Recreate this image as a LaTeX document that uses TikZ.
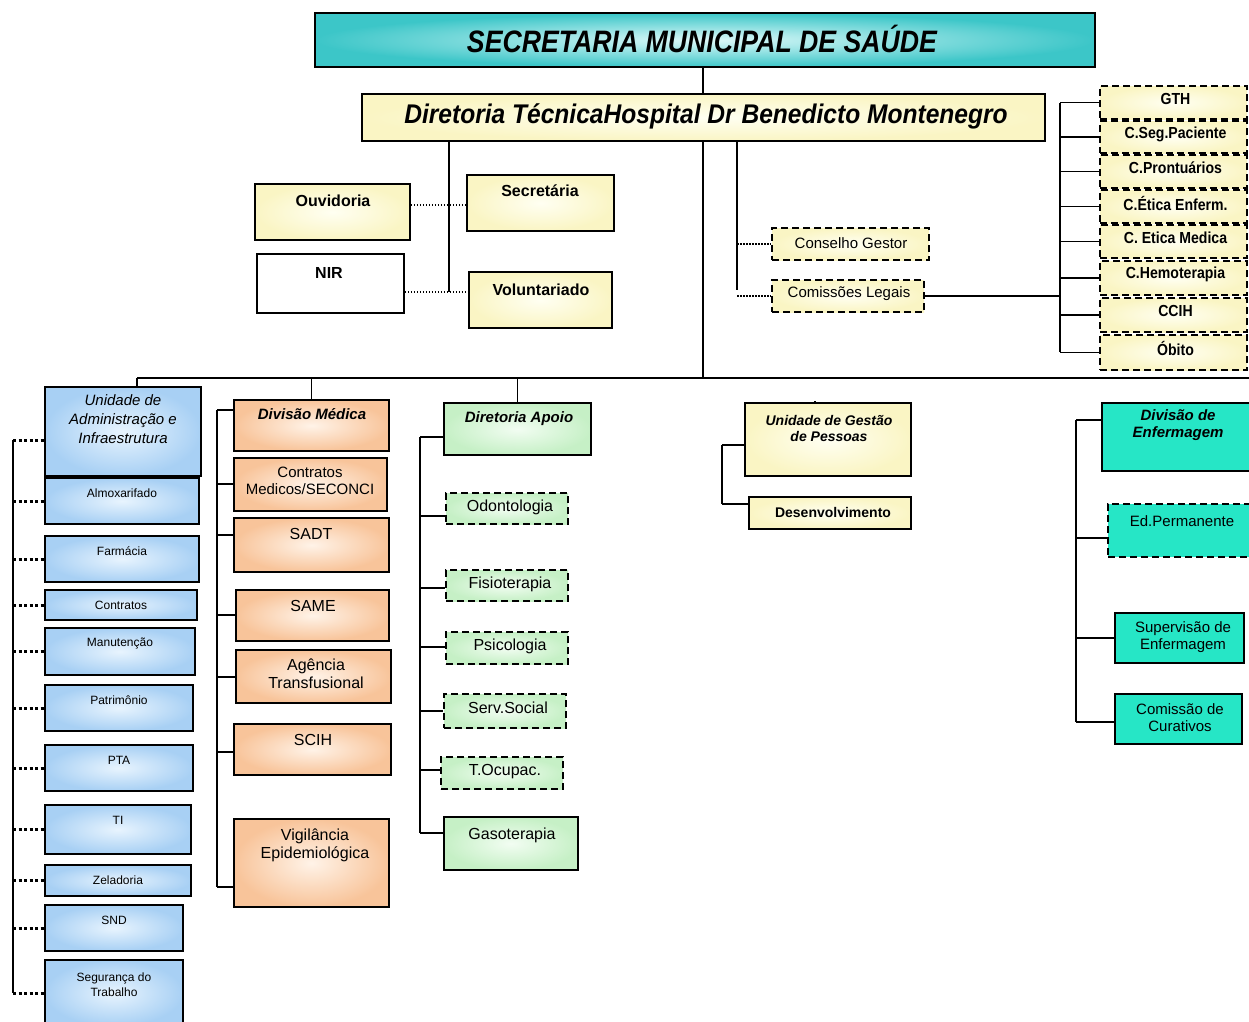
\documentclass[tikz,border=0pt]{standalone}
\usepackage{fontspec}
\setmainfont{Liberation Sans}
\usetikzlibrary{fit,calc}
\definecolor{bluein}{HTML}{E8F4FE}
\definecolor{blueout}{HTML}{A8D0F4}
\definecolor{orgin}{HTML}{FFF3E8}
\definecolor{orgout}{HTML}{F8C49A}
\definecolor{grnin}{HTML}{F2FDF2}
\definecolor{grnout}{HTML}{C6F0C6}
\definecolor{ylwin}{HTML}{FFFFF2}
\definecolor{ylwout}{HTML}{FAF5C4}
\definecolor{tealin}{HTML}{DDF9F9}
\definecolor{tealout}{HTML}{3CC6C8}
\definecolor{turq}{HTML}{26E6C6}
\newcommand\fs[1]{\fontsize{#1}{#1}\selectfont}
\newcommand\nar[2][0.86]{\scalebox{#1}[1]{#2}}
\tikzset{
  bx/.style={draw, line width=1.8pt, inner sep=0pt},
  bluebox/.style={bx, inner color=bluein, outer color=blueout},
  orgbox/.style={bx, inner color=orgin, outer color=orgout},
  grnbox/.style={bx, inner color=grnin, outer color=grnout},
  ylwbox/.style={bx, inner color=ylwin, outer color=ylwout},
  teabox/.style={bx, inner color=tealin, outer color=tealout},
  turqbox/.style={bx, fill=turq},
  dsh/.style={dash pattern=on 7pt off 4pt},
  conn/.style={line width=1.8pt},
  dotc/.style={line width=1.6pt, dash pattern=on 1.5pt off 1.5pt},
  sqd/.style={line width=3pt, dash pattern=on 3pt off 2.5pt},
  txt/.style={inner sep=0pt, align=center},
}
\newcommand\bxx[6]{\node[#2, fit={(#3,#4) (#5,#6)}] (#1) {};}
\begin{document}
\begin{tikzpicture}[x=1pt,y=-1pt]
\useasboundingbox (0,0) rectangle (1249,1021);
% ---------- top
\bxx{title}{teabox}{315}{13}{1095}{67}
\node[txt, font=\fs{31}\bfseries\itshape] at (702,39) {\nar[0.86]{SECRETARIA MUNICIPAL DE SAÚDE}};
\bxx{dir}{ylwbox}{362}{94}{1045}{141}
\node[txt, font=\fs{27}\bfseries\itshape] at (706,116) {\nar[0.91]{Diretoria Técnica}\nar[0.91]{Hospital Dr Benedicto Montenegro}};
\coordinate (m) at (703,0);
\draw[conn] (title.south -| m) -- (dir.north -| m);
% ---------- staff boxes
\bxx{ouv}{ylwbox}{255}{184}{410}{240}
\node[txt, font=\fs{16}\bfseries] at (333,201) {Ouvidoria};
\bxx{nir}{bx, fill=white}{257}{254}{404}{313}
\node[txt, font=\fs{16}\bfseries] at (329,273) {NIR};
\bxx{sec}{ylwbox}{467}{175}{614}{231}
\node[txt, font=\fs{16}\bfseries] at (540,191) {Secretária};
\bxx{vol}{ylwbox}{469}{272}{612}{328}
\node[txt, font=\fs{16}\bfseries] at (541,290) {Voluntariado};
\coordinate (sl) at (449,292);
\draw[conn] (dir.south -| sl) -- (sl);
\coordinate (ouvy) at (0,205);
\draw[dotc] (ouv.east |- ouvy) -- (sec.west |- ouvy);
\draw[dotc] (nir.east |- sl) -- (vol.west |- sl);
% ---------- conselho / comissoes
\bxx{cg}{ylwbox, dsh}{772}{228}{929}{260}
\node[txt, font=\fs{15}] at (851,243) {Conselho Gestor};
\bxx{cl}{ylwbox, dsh}{772}{280}{924}{312}
\node[txt, font=\fs{15}] at (849,294) {Comissões Legais};
\coordinate (sr) at (737,290);
\draw[conn] (dir.south -| sr) -- (sr);
\draw[dotc] (cg.west -| sr) -- (cg.west);
\draw[dotc] (cl.west -| sr) -- (cl.west);
\coordinate (csT) at (1060,103);
\coordinate (csB) at (1060,352);
\draw[conn] (csT) -- (csB);
\draw[conn] (cl.east) -- (cl.east -| csT);
\foreach \n/\ya/\yb/\t in {gth/86/119/GTH, csp/121/153/C.Seg.Paciente, cpr/155/188/C.Prontuários, cee/190/223/C.Ética Enferm., cem/225/258/C. Etica Medica, che/261/295/C.Hemoterapia, ccih/298/332/CCIH, obi/335/370/Óbito}{
  \bxx{\n}{ylwbox, dsh}{1100}{\ya}{1247}{\yb}
  \node[txt, font=\fs{16}\bfseries] at ($(\n.north)+(2,14)$) {\nar[0.88]{\t}};
  \draw[conn] (\n.west -| csT) -- (\n.west);
}
% ---------- bus
\coordinate (busL) at (137,378);
\coordinate (busR) at (1249,378);
\draw[conn] (busL) -- (busR);
\draw[conn] (dir.south -| m) -- (busL -| m);
% ---------- blue column
\bxx{uai}{bluebox}{45}{387}{201}{476}
\node[txt, font=\fs{15}\itshape] at (123,419) {Unidade de\\[4pt]Administração e\\[4pt]Infraestrutura};
\draw[conn] (busL) -- (uai.north -| busL);
\coordinate (lsx) at (13,0);
\foreach \n/\ya/\yb/\xb/\t in {alm/478/524/199/Almoxarifado, far/536/582/199/Farmácia, con/590/620/197/Contratos, man/628/675/195/Manutenção, pat/685/731/193/Patrimônio, pta/745/791/193/PTA, ti/805/854/191/TI, zel/865/896/191/Zeladoria, snd/905/951/183/SND}{
  \bxx{\n}{bluebox}{45}{\ya}{\xb}{\yb}
  \node[txt, font=\fs{12}] at ($(\n.north)+(0,16)$) {\t};
}
\bxx{seg}{bluebox}{45}{960}{183}{1026}
\node[txt, font=\fs{12}] at (114,985) {Segurança do\\[3pt]Trabalho};
\coordinate (ltop) at (13,440);
\draw[conn] (ltop) -- (seg.west -| lsx);
\foreach \n in {alm,far,con,man,pat,pta,ti,zel,snd,seg}{
  \draw[sqd] (\n.west -| lsx) -- (\n.west);
}
\draw[sqd] (ltop) -- (ltop -| uai.west);
% ---------- orange column
\bxx{dm}{orgbox}{234}{400}{389}{451}
\node[txt, font=\fs{15}\bfseries\itshape] at (312,414) {Divisão Médica};
\draw[conn] (dm.north) -- (dm.north |- busL);
\bxx{cms}{orgbox}{234}{458}{387}{511}
\node[txt, font=\fs{15}] at (310,481) {Contratos\\[2pt]Medicos/SECONCI};
\bxx{sadt}{orgbox}{234}{518}{389}{572}
\node[txt, font=\fs{16}] at (311,534) {SADT};
\bxx{same}{orgbox}{236}{590}{389}{641}
\node[txt, font=\fs{16}] at (313,606) {SAME};
\bxx{agt}{orgbox}{236}{650}{391}{703}
\node[txt, font=\fs{16}] at (316,674) {Agência\\[2pt]Transfusional};
\bxx{scih}{orgbox}{234}{724}{391}{775}
\node[txt, font=\fs{16}] at (313,740) {SCIH};
\bxx{vig}{orgbox}{234}{819}{389}{907}
\node[txt, font=\fs{16}] at (315,845) {Vigilância\\[2pt]Epidemiológica};
\coordinate (ot) at (217,410);
\coordinate (ob) at (217,887);
\draw[conn] (ot) -- (ob);
\draw[conn] (ot) -- (ot -| dm.west);
\draw[conn] (ob) -- (ob -| vig.west);
\foreach \n/\y in {cms/484, sadt/535, same/615, agt/677, scih/752}{
  \draw[conn] (217,\y) -- (\n.west |- 0,\y);
}
% ---------- green column
\bxx{da}{grnbox}{444}{403}{591}{455}
\node[txt, font=\fs{15}\bfseries\itshape] at (519,419) {Diretoria Apoio};
\draw[conn] (da.north) -- (da.north |- busL);
\foreach \n/\xa/\ya/\xb/\yb/\t in {odo/446/493/568/524/Odontologia, fis/446/570/568/601/Fisioterapia, psi/446/632/568/664/Psicologia, ss/444/694/566/728/Serv.Social, to/441/757/563/789/T.Ocupac.}{
  \bxx{\n}{grnbox, dsh}{\xa}{\ya}{\xb}{\yb}
  \node[txt, font=\fs{16}] at ($(\n.north)+(3,15)$) {\t};
}
\bxx{gas}{grnbox}{444}{817}{578}{870}
\node[txt, font=\fs{16}] at (512,835) {Gasoterapia};
\coordinate (gt) at (420,437);
\coordinate (gb) at (420,833);
\draw[conn] (gt) -- (gb);
\draw[conn] (gt) -- (gt -| da.west);
\draw[conn] (gb) -- (gb -| gas.west);
\foreach \n/\y in {odo/516, fis/588, psi/647, ss/711, to/770}{
  \draw[conn] (420,\y) -- (\n.west |- 0,\y);
}
% ---------- gestao de pessoas
\bxx{ugp}{ylwbox}{745}{403}{911}{476}
\node[txt, font=\fs{14}\bfseries\itshape] at (829,428) {Unidade de Gestão\\[2pt]de Pessoas};
\draw[conn] ($(ugp.north)+(-12,0)$) -- ($(ugp.north)+(-14,0)$ |- busL);
\bxx{des}{ylwbox}{749}{497}{911}{529}
\node[txt, font=\fs{14}\bfseries] at (833,512) {Desenvolvimento};
\coordinate (ut) at (722,445);
\coordinate (ub) at (722,504);
\draw[conn] (ut) -- (ub);
\draw[conn] (ut) -- (ut -| ugp.west);
\draw[conn] (ub) -- (ub -| des.west);
% ---------- enfermagem
\bxx{den}{turqbox}{1102}{403}{1252}{471}
\node[txt, font=\fs{15}\bfseries\itshape] at (1178,425) {Divisão de\\[2pt]Enfermagem};
\draw[conn] ($(den.north)+(-14,0)$) -- ($(den.north)+(-14,0)$ |- busL);
\bxx{edp}{turqbox, dsh}{1108}{504}{1252}{557}
\node[txt, font=\fs{15}] at (1182,521) {Ed.Permanente};
\bxx{sup}{turqbox}{1115}{613}{1244}{663}
\node[txt, font=\fs{15}] at (1183,637) {Supervisão de\\[2pt]Enfermagem};
\bxx{cc}{turqbox}{1115}{694}{1242}{744}
\node[txt, font=\fs{15}] at (1180,718) {Comissão de\\[2pt]Curativos};
\coordinate (et) at (1076,420);
\coordinate (eb) at (1076,722);
\draw[conn] (et) -- (eb);
\draw[conn] (et) -- (et -| den.west);
\draw[conn] (eb) -- (eb -| cc.west);
\draw[conn] (1076,538) -- (edp.west |- 0,538);
\draw[conn] (1076,638) -- (sup.west |- 0,638);
\end{tikzpicture}
\end{document}
